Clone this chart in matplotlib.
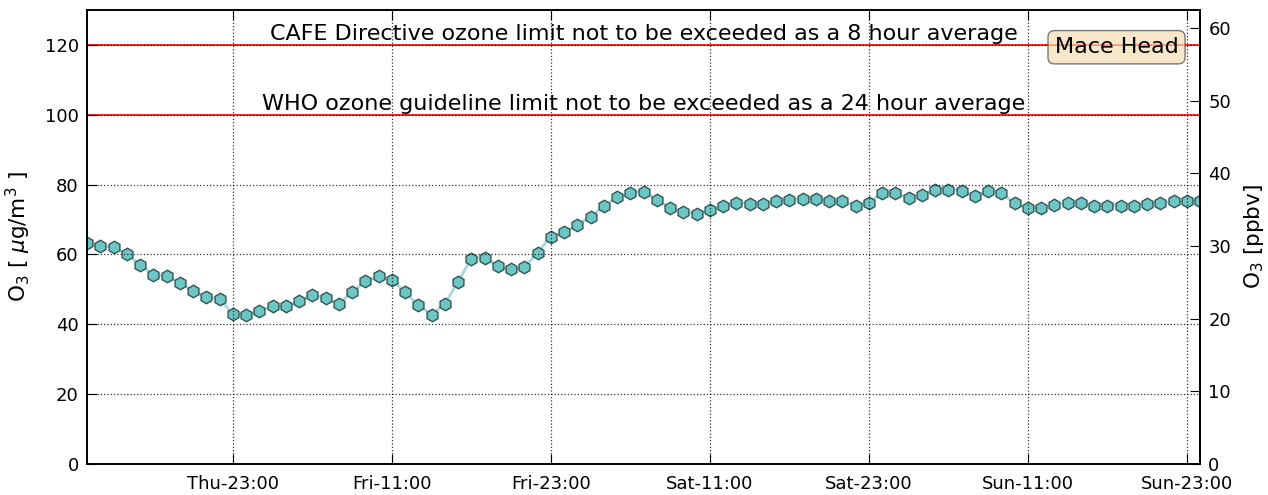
import matplotlib
matplotlib.use("Agg")
import matplotlib.pyplot as plt
import matplotlib.dates as mdates
import pandas as pd

# hourly ozone at Mace Head (ug/m3), Thu 12:00 -> Mon 00:00
start_time = "2016-06-02 12:00"
ozone_ugm3 = [
    63.3, 62.4, 62.1, 60.1, 57.1, 54.1, 53.8, 51.9, 49.5, 47.8,
    47.3, 43.0, 42.6, 43.9, 45.1, 45.1, 46.6, 48.5, 47.4, 45.8,
    49.2, 52.3, 53.8, 52.7, 49.2, 45.5, 42.8, 45.8, 52.2, 58.8,
    59.1, 56.7, 55.7, 56.3, 60.5, 65.1, 66.3, 68.5, 70.8, 73.8,
    76.4, 77.6, 78.0, 75.6, 73.4, 72.2, 71.7, 72.6, 74.0, 74.8,
    74.5, 74.5, 75.3, 75.6, 75.9, 75.9, 75.4, 75.2, 74.0, 74.8,
    77.5, 77.6, 76.2, 77.1, 78.6, 78.6, 78.3, 76.7, 78.3, 77.5,
    74.7, 73.3, 73.3, 74.2, 74.8, 74.8, 74.0, 74.0, 74.0, 74.0,
    74.5, 74.8, 75.2, 75.2, 75.4,
]
times = pd.date_range(start_time, periods=len(ozone_ugm3), freq="h")

limit_values = [120, 100]
limit_labels = [
    "CAFE Directive ozone limit not to be exceeded as a 8 hour average",
    "WHO ozone guideline limit not to be exceeded as a 24 hour average",
]
left_ylim = (0, 130)
right_ylim = (0, 62.5)
left_ticks = [0, 20, 40, 60, 80, 100, 120]
right_ticks = [0, 10, 20, 30, 40, 50, 60]
station = "Mace Head"

fig = plt.figure(figsize=(12.68, 4.95), dpi=100)
ax = fig.add_axes([87 / 1268, 1 - 464 / 495, (1200 - 87) / 1268, (464 - 10) / 495])
ax2 = ax.twinx()

ax.plot(times, ozone_ugm3, color="#a6dada", lw=2, zorder=2,
        marker="h", markersize=9, markerfacecolor="#6ec6c4",
        markeredgecolor="#2e5656", markeredgewidth=1.0)

for val, lab in zip(limit_values, limit_labels):
    ax.axhline(val, color="red", lw=1.2, zorder=1.5)
    ax.text(0.5, val + 0.2, lab, transform=ax.get_yaxis_transform(),
            ha="center", va="bottom", fontsize=16, color="black")

ax.text(0.925, 0.918, station, transform=ax.transAxes, ha="center", va="center",
        fontsize=16, bbox=dict(boxstyle="round", facecolor="wheat", alpha=0.7,
                               edgecolor="#444444", lw=1))

ax.set_xlim(times[0], times[-1])
ax.set_ylim(*left_ylim)
ax2.set_ylim(*right_ylim)
ax.set_yticks(left_ticks)
ax2.set_yticks(right_ticks)

ax.xaxis.set_major_locator(mdates.HourLocator(byhour=[11, 23]))
ax.xaxis.set_major_formatter(mdates.DateFormatter("%a-%H:%M"))

ax.grid(True, color="black", linestyle=":", lw=0.9, alpha=0.8)
ax.set_axisbelow(False)

ax.tick_params(axis="y", direction="in", length=7, labelsize=13,
               right=False, pad=6)
ax.tick_params(axis="x", direction="in", length=7, labelsize=13,
               top=True, pad=8)
ax2.tick_params(axis="y", direction="in", length=7, labelsize=13, pad=6)

ax.set_ylabel(r"O$_3$ [ $\mu$g/m$^3$ ]", fontsize=15.5, labelpad=8)
ax2.set_ylabel(r"O$_3$ [ppbv]", fontsize=15.5, labelpad=8)

for a in (ax, ax2):
    for s in a.spines.values():
        s.set_linewidth(1.2)

fig.savefig("out.png", dpi=100)
